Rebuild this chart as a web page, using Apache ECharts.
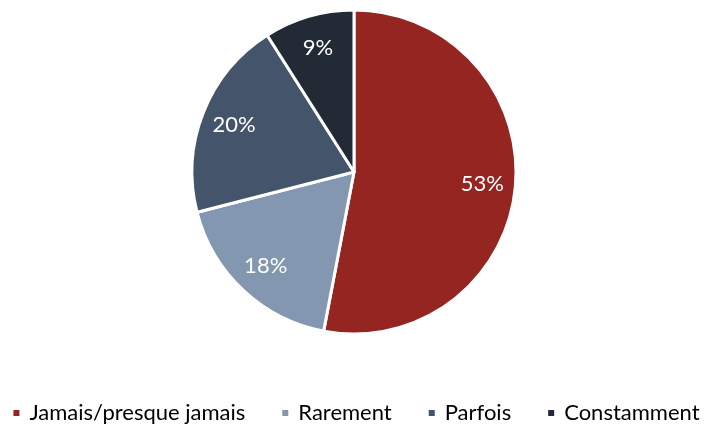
<!DOCTYPE html>
<html>
<head>
<meta charset="utf-8">
<script src="https://cdn.jsdelivr.net/npm/echarts@6/dist/echarts.min.js"></script>
<style>
  html, body { margin: 0; padding: 0; background: #fff; }
  #chart { width: 711px; height: 425px; }
</style>
</head>
<body>
<div id="chart"></div>
<script>
// categories and shares (%)
var categories = ['Jamais/presque jamais', 'Rarement', 'Parfois', 'Constamment'];
var shares = [53, 18, 20, 9];
var colors = ['#952520', '#8497B0', '#44546A', '#222A35'];

var pieData = categories.map(function (name, i) {
    return {name: name, value: shares[i], itemStyle: {color: colors[i]}};
});

var chart = echarts.init(document.getElementById('chart'), null, {renderer: 'canvas'});
chart.setOption({
    animation: false,
    legend: {
        top: 397,
        left: 'center',
        itemWidth: 8,
        itemHeight: 8,
        itemGap: 35,
        icon: 'rect',
        textStyle: {fontFamily: 'Lato', fontSize: 22, color: '#000', padding: [0, 0, 0, 4]},
        data: categories
    },
    series: [
        {
            type: 'pie',
            center: [354, 172],
            radius: [0, 162],
            startAngle: 90,
            clockwise: true,
            itemStyle: {borderColor: '#fff', borderWidth: 3},
            label: {show: false},
            labelLine: {show: false},
            data: pieData
        },
        {
            // transparent ring used only to place labels
            type: 'pie',
            center: [354, 172],
            radius: [90, 162],
            startAngle: 90,
            clockwise: true,
            silent: true,
            itemStyle: {color: 'transparent', borderWidth: 0},
            label: {
                show: true,
                position: 'inside',
                formatter: '{c}%',
                color: '#fff',
                fontFamily: 'Lato',
                fontSize: 22
            },
            labelLine: {show: false},
            data: categories.map(function (name, i) {
                return {name: name + ' ', value: shares[i]};
            })
        }
    ]
});
</script>
</body>
</html>
